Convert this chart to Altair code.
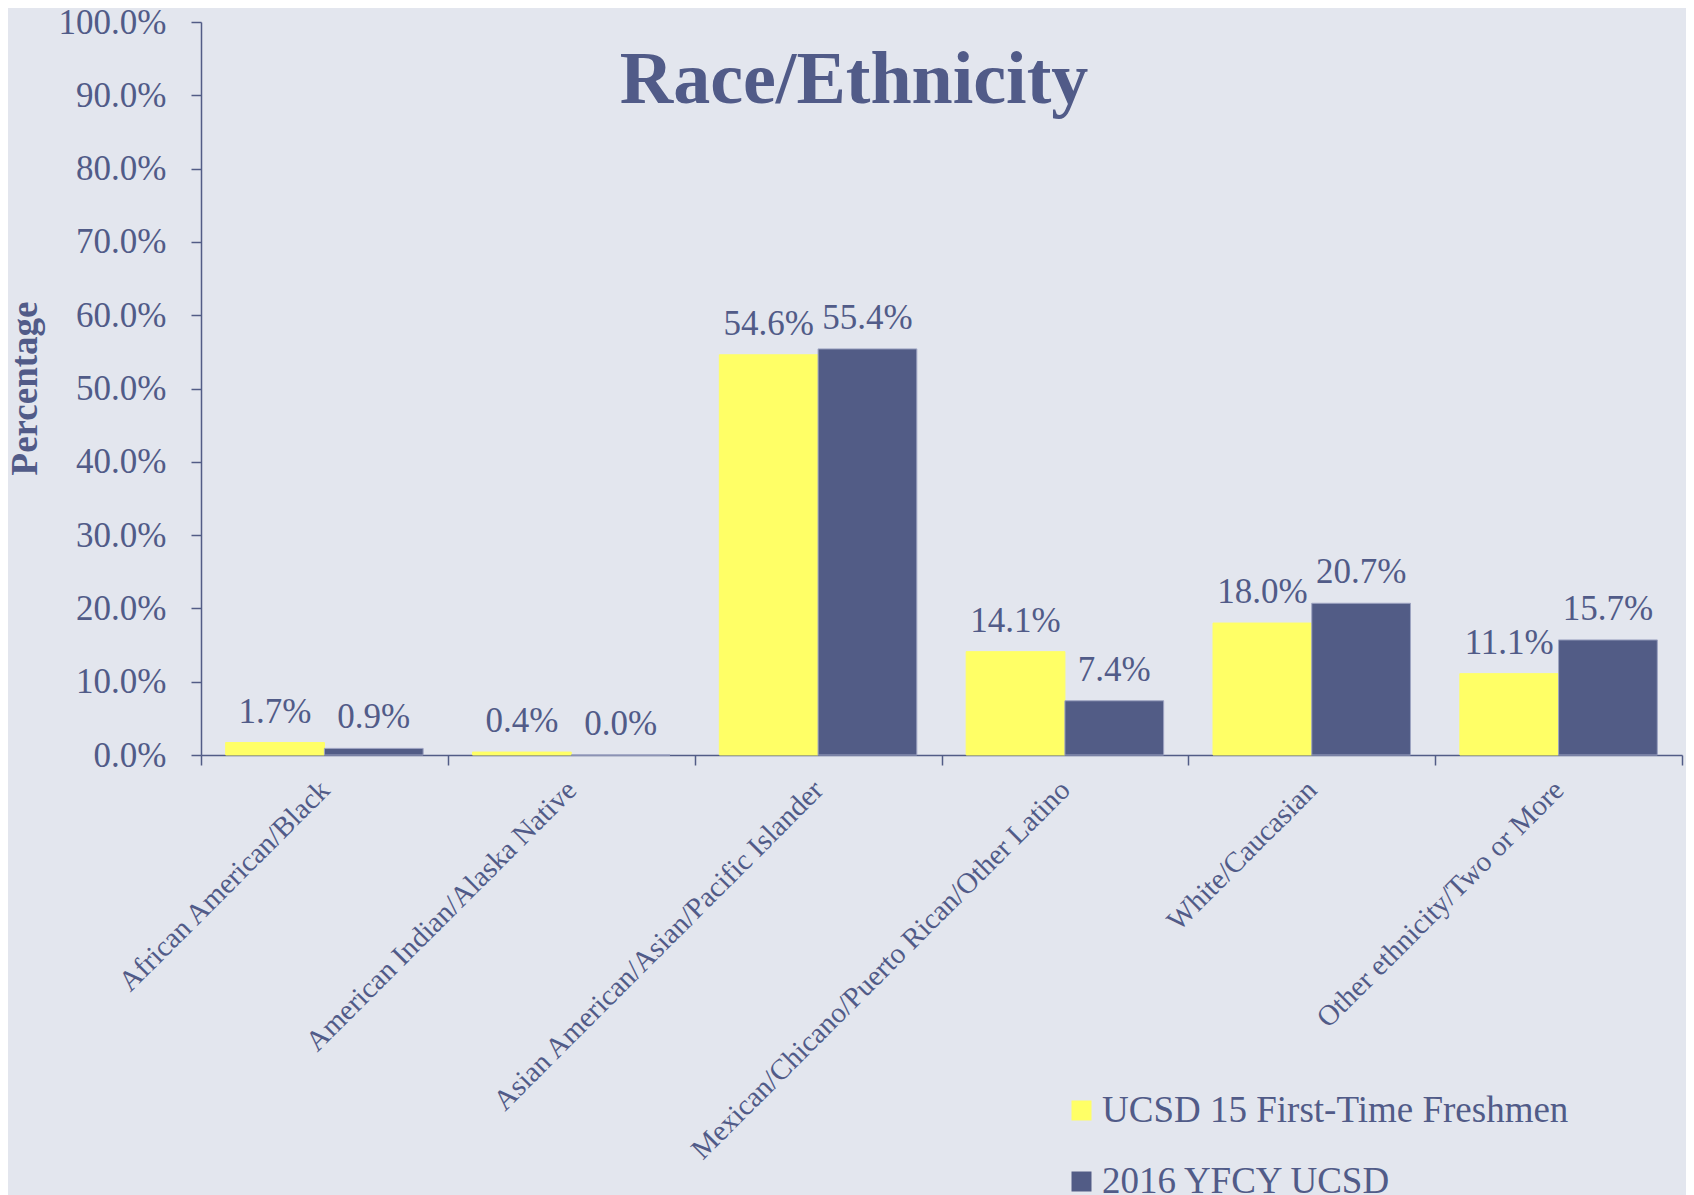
import altair as alt
import pandas as pd

categories = [
    "African American/Black",
    "American Indian/Alaska Native",
    "Asian American/Asian/Pacific Islander",
    "Mexican/Chicano/Puerto Rican/Other Latino",
    "White/Caucasian",
    "Other ethnicity/Two or More",
]
series = ["UCSD 15 First-Time Freshmen", "2016 YFCY UCSD"]
freshmen = [1.7, 0.4, 54.6, 14.1, 18.0, 11.1]
yfcy = [0.9, 0.0, 55.4, 7.4, 20.7, 15.7]
y_ticks = [0.0, 0.1, 0.2, 0.3, 0.4, 0.5, 0.6, 0.7, 0.8, 0.9, 1.0]

rows = []
for c, a, b in zip(categories, freshmen, yfcy):
    rows.append({"category": c, "series": series[0], "value": a / 100, "label": f"{a:.1f}%"})
    rows.append({"category": c, "series": series[1], "value": b / 100, "label": f"{b:.1f}%"})
df = pd.DataFrame(rows)

FONT = "Liberation Serif"
TXT = "#515B88"
BG = "#E3E6EE"
DARK = "#525C86"
YEL = "#FFFF66"

x = alt.X(
    "category:N",
    sort=categories,
    scale=alt.Scale(paddingInner=0, paddingOuter=0),
    axis=alt.Axis(
        title=None,
        labelAngle=-45,
        labelAlign="right",
        labelBaseline="middle",
        labelFont=FONT,
        labelFontSize=29,
        labelColor=TXT,
        labelLimit=1000,
        labelPadding=20,
        tickBand="extent",
        tickSize=10,
        tickColor=DARK,
        tickWidth=1.5,
        domainColor=DARK,
        domainWidth=1.5,
        grid=False,
    ),
)
xo = alt.XOffset("series:N", sort=series, scale=alt.Scale(paddingInner=0, paddingOuter=0.25))
y = alt.Y(
    "value:Q",
    scale=alt.Scale(domain=[0, 1]),
    axis=alt.Axis(
        title="Percentage",
        titleFont=FONT,
        titleFontSize=37,
        titleFontWeight="bold",
        titleColor=TXT,
        titleAngle=-90,
        titleX=-157,
        titleY=366,
        titleAlign="center",
        titleBaseline="bottom",
        format=".1%",
        values=y_ticks,
        labelFont=FONT,
        labelFontSize=35,
        labelColor=TXT,
        labelPadding=25,
        tickSize=10,
        tickColor=DARK,
        tickWidth=1.5,
        domainColor=DARK,
        domainWidth=1.5,
        grid=False,
    ),
)
color = alt.Color(
    "series:N",
    sort=series,
    scale=alt.Scale(domain=series, range=[YEL, DARK]),
    legend=alt.Legend(
        title=None,
        orient="none",
        legendX=862,
        legendY=1070,
        symbolType="square",
        symbolSize=400,
        symbolStrokeWidth=0,
        labelFont=FONT,
        labelFontSize=37,
        labelColor=TXT,
        labelOffset=2,
        labelLimit=1000,
        rowPadding=33,
        padding=0,
    ),
)
stroke = alt.Stroke(
    "series:N",
    sort=series,
    scale=alt.Scale(domain=series, range=[YEL, "#9EA4C2"]),
    legend=None,
)

base = alt.Chart(df)
bars = base.mark_bar(strokeWidth=1).encode(x=x, xOffset=xo, y=y, color=color, stroke=stroke)
labels = base.mark_text(
    font=FONT, fontSize=35, color=TXT, baseline="alphabetic", align="center", dy=-20
).encode(x=alt.X("category:N", sort=categories), xOffset=alt.XOffset("series:N", sort=series), y="value:Q", text="label:N")

title = alt.Chart(pd.DataFrame({"t": ["Race/Ethnicity"]})).mark_text(
    font=FONT, fontSize=74, fontWeight="bold", color=TXT, align="center", baseline="alphabetic"
).encode(x=alt.value(653), y=alt.value(81), text="t:N")

chart = (
    alt.layer(bars, labels, title)
    .properties(
        width=1481,
        height=733,
        padding={"left": 193, "top": 14, "right": 4, "bottom": 460},
        autosize=alt.AutoSizeParams(type="none"),
        background=BG,
    )
    .configure_view(stroke=None)
)

chart.save("out.html", embed_options={"renderer": "svg", "actions": False})
